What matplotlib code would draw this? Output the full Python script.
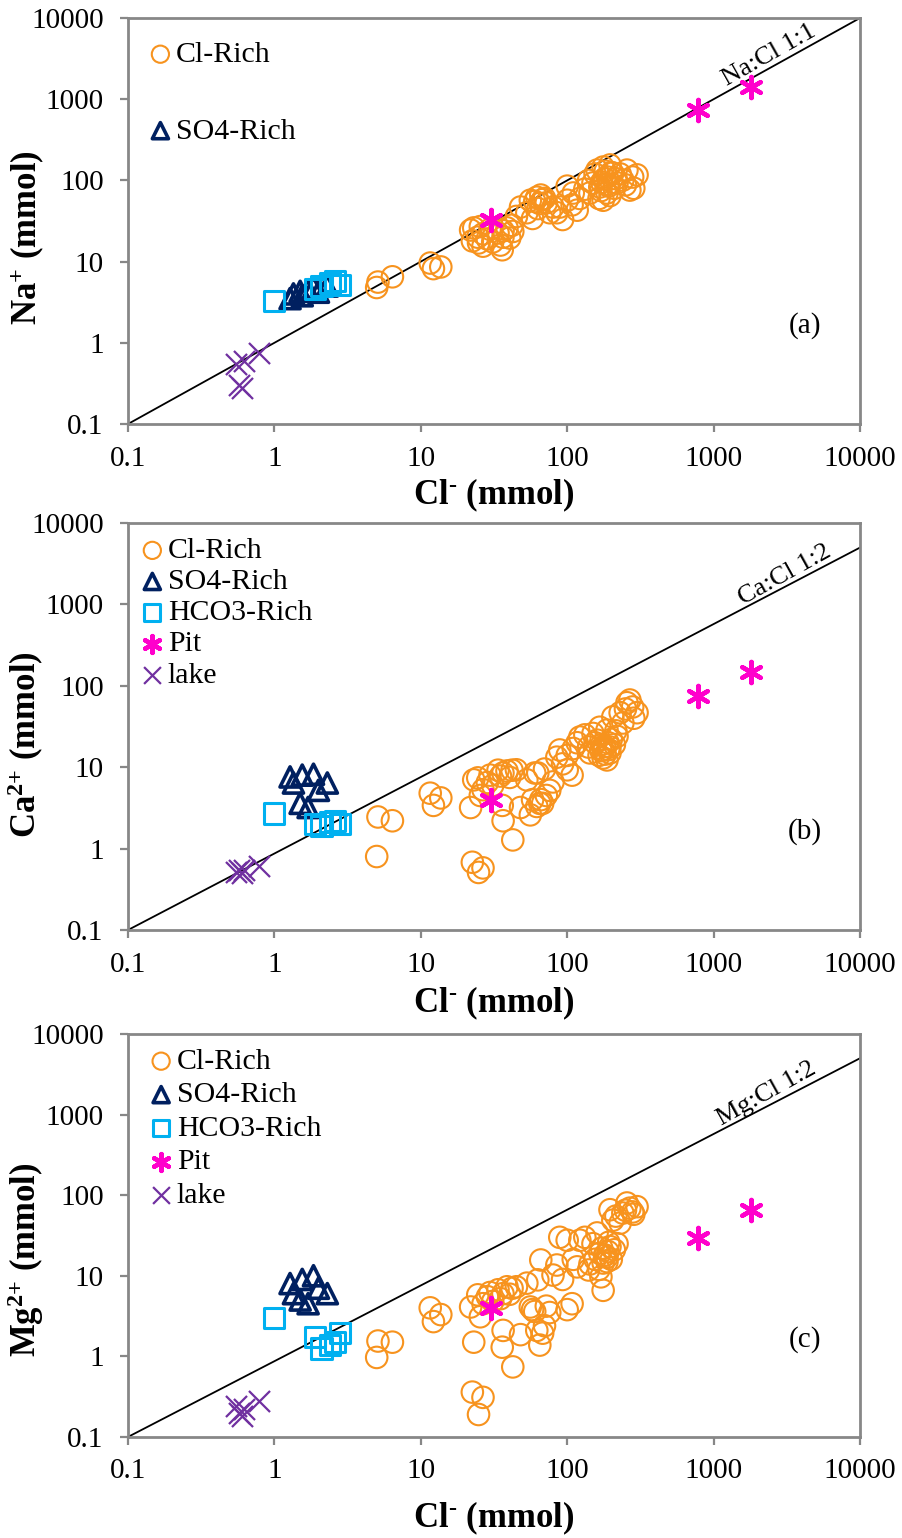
import matplotlib
matplotlib.use("Agg")
import matplotlib.pyplot as plt
from matplotlib.ticker import FixedLocator, FixedFormatter, NullLocator

plt.rcParams['font.family'] = ['Liberation Serif', 'DejaVu Serif']
plt.rcParams['mathtext.fontset'] = 'custom'
plt.rcParams['mathtext.rm'] = 'Liberation Serif'
plt.rcParams['mathtext.bf'] = 'Liberation Serif:bold'
plt.rcParams['mathtext.it'] = 'Liberation Serif:italic'

# ---- data (mmol) ----
# Cl-Rich samples
cl_rich = [5.0, 5.1, 6.4, 11.6, 12.2, 13.7,
           21.9, 22.5, 23.0, 24.5, 24.8, 25.5, 26.6, 26.6, 28.5, 29.7,
           31.0, 33.7, 35.0, 36.0, 36.4, 36.5, 38.8, 40.5, 42.5, 42.0,
           45, 48, 53, 56, 58, 62, 63, 65, 66, 68, 72,
           76, 80, 85, 89, 93, 100, 100, 108, 110, 117, 122,
           140, 143, 150, 155, 160, 165, 167, 170, 176, 176, 180, 187, 187, 190,
           196, 196, 200, 205, 210, 219, 230, 240, 256, 268, 280, 300, 285,
           60, 70, 132, 172, 182, 192, 215, 250]
na_rich = [4.8, 5.6, 6.5, 9.6, 8.2, 8.6,
           24.5, 18.0, 26.0, 20.0, 17.0, 27.0, 15.5, 22.0, 19.0, 25.0,
           17.5, 22.5, 16.0, 14.0, 20.0, 24.0, 26.0, 19.5, 23.5, 28.0,
           36, 47, 40, 57, 34, 62, 45, 52, 66, 58, 53,
           40, 47, 40, 47, 33, 57, 85, 50, 70, 43, 60,
           100, 70, 93, 120, 134, 60, 83, 75, 146, 57, 105, 110, 70, 90,
           155, 65, 125, 123, 80, 93, 120, 101, 134, 76, 110, 117, 80,
           55, 60, 78, 95, 130, 85, 105, 88]
ca_rich = [0.8, 2.45, 2.2, 4.8, 3.4, 4.2,
           3.2, 0.68, 7.0, 7.4, 0.51, 4.5, 0.58, 5.3, 6.5, 8.0,
           6.0, 9.2, 7.8, 3.4, 8.5, 2.2, 9.0, 7.5, 1.28, 9.2,
           9.3, 3.2, 7.0, 2.6, 4.0, 3.3, 8.5, 3.6, 4.0, 3.6, 4.5,
           5.2, 6.6, 13.3, 16.3, 11.0, 9.3, 14.0, 8.0, 17.0, 20.0, 23.5,
           17.7, 15.0, 26, 20, 21.5, 14.0, 31, 16.0, 16.3, 13.0, 18.0, 28.6, 12.3, 20.0,
           17.7, 15.0, 22.0, 41.6, 19.0, 24.0, 46.8, 35, 62, 67, 55, 46.8, 40,
           8.5, 9.5, 25, 19, 14.5, 16.5, 28, 52]
mg_rich = [0.97, 1.55, 1.5, 4.0, 2.7, 3.3,
           4.1, 0.36, 1.5, 5.8, 0.19, 3.1, 0.31, 4.5, 5.5, 6.2,
           4.8, 6.7, 5.2, 1.3, 6.0, 2.1, 7.3, 5.9, 0.74, 7.0,
           7.3, 1.86, 8.1, 4.1, 3.8, 2.1, 8.9, 1.38, 15.7, 1.94, 4.2,
           3.5, 10.2, 13.6, 30, 9.0, 3.8, 27.6, 4.5, 16.0, 12.9, 27.6,
           11.8, 14.0, 25, 16, 34, 12.0, 19, 9.7, 14.4, 6.6, 18.0, 17, 15.0, 20.0,
           23, 66, 16.0, 49, 21.0, 25.0, 45, 60, 80, 69, 62, 72, 58,
           3.6, 2.4, 30, 22, 18, 26, 55, 65]

# SO4-Rich samples
cl_so4 = [1.28, 1.35, 1.5, 1.55, 1.7, 1.85, 2.0, 2.3]
na_so4 = [3.5, 4.0, 4.3, 3.8, 4.5, 4.8, 4.2, 5.0]
ca_so4 = [7.6, 6.4, 3.6, 8.0, 3.2, 8.2, 5.2, 6.4]
mg_so4 = [8.0, 6.0, 5.0, 9.0, 4.5, 10.0, 7.0, 6.0]

# HCO3-Rich samples
cl_hco3 = [1.0, 1.9, 2.1, 2.4, 2.6, 2.8]
na_hco3 = [3.3, 4.6, 5.0, 5.5, 5.8, 5.2]
ca_hco3 = [2.7, 2.0, 1.9, 2.1, 2.2, 2.0]
mg_hco3 = [3.0, 1.75, 1.25, 1.4, 1.5, 1.95]

# Pit samples
cl_pit = [30, 780, 1800]
na_pit = [33, 740, 1420]
ca_pit = [4.0, 76, 148]
mg_pit = [4.0, 29.5, 66]

# lake samples
cl_lake = [0.55, 0.57, 0.60, 0.62, 0.78]
na_lake = [0.55, 0.30, 0.28, 0.60, 0.75]
ca_lake = [0.52, 0.55, 0.50, 0.55, 0.62]
mg_lake = [0.24, 0.20, 0.18, 0.22, 0.28]

ticks = [0.1, 1, 10, 100, 1000, 10000]
tick_labels = ['0.1', '1', '10', '100', '1000', '10000']

ORANGE = '#F7931E'
NAVY = '#002060'
SKY = '#00B0F0'
PINK = '#FF00CC'
PURPLE = '#7030A0'
GRAY = '#878787'

fig = plt.figure(figsize=(9.03, 15.38), dpi=100)
axes = [fig.add_axes([0.1417, 0.7243, 0.8107, 0.2640]),
        fig.add_axes([0.1417, 0.3953, 0.8107, 0.2646]),
        fig.add_axes([0.1417, 0.0657, 0.8107, 0.2620])]

# per panel: y data, ratio line end, line label, label anchor on the line, rotation,
# y label, panel tag, y-label position, x-label position
panels = [
    (na_rich, na_so4, na_hco3, na_pit, na_lake, 10000, 'Na:Cl 1:1', (2620, 2620), 29.5,
     r'Na$^{\mathbf{+}}$ (mmol)', '(a)', 0.46, -0.13),
    (ca_rich, ca_so4, ca_hco3, ca_pit, ca_lake, 5000, 'Ca:Cl 1:2', (3327, 1778), 29,
     r'Ca$^{\mathbf{2{+}}}$ (mmol)', '(b)', 0.455, -0.133),
    (mg_rich, mg_so4, mg_hco3, mg_pit, mg_lake, 5000, 'Mg:Cl 1:2', (2506, 1362), 29,
     r'Mg$^{\mathbf{2{+}}}$ (mmol)', '(c)', 0.44, -0.156),
]

for i, (ax, p) in enumerate(zip(axes, panels)):
    y_rich, y_so4, y_hco3, y_pit, y_lake, y_end, line_txt, txt_xy, rot, ylab, tag, ylab_y, xlab_y = p
    ax.set_xscale('log')
    ax.set_yscale('log')
    ax.set_xlim(0.1, 10000)
    ax.set_ylim(0.1, 10000)

    ax.plot([0.1, 10000], [0.1, y_end], color='black', lw=1.3, zorder=1)

    h_rich = ax.scatter(cl_rich, y_rich, s=240, facecolors='none', edgecolors=ORANGE,
                        linewidths=1.5, label='Cl-Rich', zorder=2)
    h_so4 = ax.scatter(cl_so4, y_so4, s=210, marker='^', facecolors='none', edgecolors=NAVY,
                       linewidths=2.6, label='SO4-Rich', zorder=3)
    h_hco3 = ax.scatter(cl_hco3, y_hco3, s=210, marker='s', facecolors='none', edgecolors=SKY,
                        linewidths=2.2, label='HCO3-Rich', zorder=3)
    h_pit = ax.scatter(cl_pit, y_pit, s=230, marker=(6, 2, 0), color=PINK,
                       linewidths=3.2, label='Pit', zorder=4)
    h_lake = ax.scatter(cl_lake, y_lake, s=230, marker='x', color=PURPLE,
                        linewidths=1.6, label='lake', zorder=4)

    # ratio label sitting on the line
    ax.text(txt_xy[0], txt_xy[1], line_txt, rotation=rot, fontsize=19,
            ha='center', va='bottom', rotation_mode='anchor')
    ax.text(0.925, 0.242, tag, transform=ax.transAxes, fontsize=21, ha='center', va='center')

    if i == 0:
        ax.legend(handles=[h_rich, h_so4], loc='upper left', bbox_to_anchor=(0.028, 0.943),
                  frameon=False, fontsize=21.5, markerscale=0.8, handlelength=0.8,
                  handletextpad=0.12, labelspacing=1.66, borderpad=0, borderaxespad=0)
    else:
        ax.legend(handles=[h_rich, h_so4, h_hco3, h_pit, h_lake], loc='upper left',
                  bbox_to_anchor=(0.017 if i == 1 else 0.029, 0.965),
                  frameon=False, fontsize=21.5, markerscale=0.8, handlelength=0.8,
                  handletextpad=0.12, labelspacing=0.14 if i == 1 else 0.22,
                  borderpad=0, borderaxespad=0)

    ax.xaxis.set_major_locator(FixedLocator(ticks))
    ax.xaxis.set_major_formatter(FixedFormatter(tick_labels))
    ax.yaxis.set_major_locator(FixedLocator(ticks))
    ax.yaxis.set_major_formatter(FixedFormatter(tick_labels))
    ax.xaxis.set_minor_locator(NullLocator())
    ax.yaxis.set_minor_locator(NullLocator())
    ax.tick_params(axis='both', direction='out', length=5.5, width=1.6, color=GRAY,
                   labelsize=21)
    ax.tick_params(axis='x', pad=10)
    ax.tick_params(axis='y', pad=12)
    for sp in ax.spines.values():
        sp.set_color(GRAY)
        sp.set_linewidth(2)

    ax.set_ylabel(ylab, fontsize=25, fontweight='bold')
    ax.yaxis.set_label_coords(-0.112, ylab_y)
    ax.set_xlabel('Cl$^{\\mathbf{\u2010}}$ (mmol)', fontsize=25, fontweight='bold')
    ax.xaxis.set_label_coords(0.5, xlab_y)

fig.savefig('out.png', dpi=100)
